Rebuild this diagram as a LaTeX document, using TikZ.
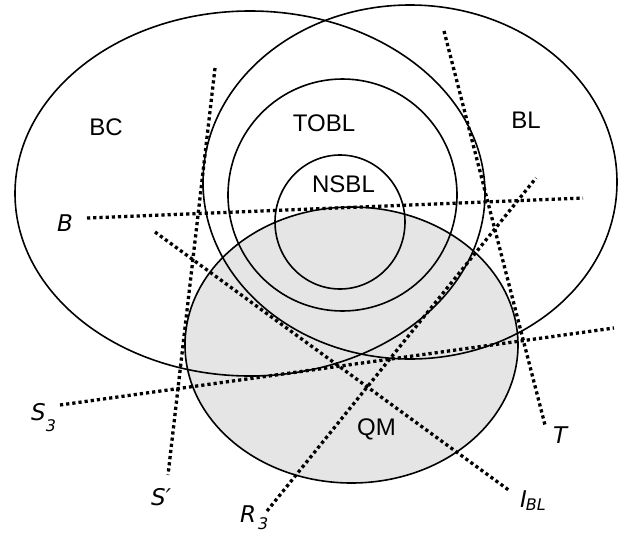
\documentclass[tikz,border=0pt]{standalone}
\usepackage{fontspec}
\setmainfont{Liberation Sans}
\newfontfamily\labfont{DejaVu Sans}
\definecolor{qmgray}{HTML}{E5E5E5}
\newcommand{\subsz}{\fontsize{16}{18}\selectfont}
\begin{document}
\begin{tikzpicture}[x=1pt,y=-1pt,
  outl/.style={line width=1.6pt},
  dotl/.style={line width=3.3pt, dash pattern=on 3.2pt off 3pt},
  reg/.style={font=\fontsize{24}{28}\selectfont, inner sep=0pt},
  ital/.style={font=\labfont\itshape\fontsize{23}{27}\selectfont, inner sep=0pt}]
\useasboundingbox (0,0) rectangle (637,533);
% QM fill
\fill[qmgray] (351.5,345) ellipse [x radius=166.5, y radius=138];
% outlines
\draw[outl] (250,193.5) ellipse [x radius=235, y radius=182.5];
\draw[outl] (410,182) ellipse [x radius=207, y radius=177];
\draw[outl] (342.5,195) ellipse [x radius=114.5, y radius=116];
\draw[outl] (340,222) ellipse [x radius=65, y radius=67];
\draw[outl] (351.5,345) ellipse [x radius=166.5, y radius=138];
% region labels
\node[reg] (bc) at (106,127) {BC};
\node[reg] (tobl) at (324,123.5) {TOBL};
\node[reg] (bl) at (526,120) {BL};
\node[reg] (nsbl) at (343.5,184) {NSBL};
\node[reg] (qm) at (376.5,429) {QM};
% line end points
\coordinate (b1) at (87,218);   \coordinate (b2) at (583,198);
\coordinate (s31) at (60,405);  \coordinate (s32) at (614,328);
\coordinate (sp1) at (215,68);  \coordinate (sp2) at (168,475);
\coordinate (r31) at (267,511); \coordinate (r32) at (536,178);
\coordinate (i1) at (155,232);  \coordinate (i2) at (510,491);
\coordinate (t1) at (444,31);   \coordinate (t2) at (545,425);
\draw[dotl] (b1) -- (b2);
\draw[dotl] (s31) -- (s32);
\draw[dotl] (sp1) -- (sp2);
\draw[dotl] (r31) -- (r32);
\draw[dotl] (i1) -- (i2);
\draw[dotl] (t1) -- (t2);
% line labels
\node[ital, anchor=base west] (lb) at (57,231) {B};
\node[ital, anchor=base west] (ls3) at (31,420) {S\raisebox{-11pt}{\subsz 3}};
\node[ital, anchor=base west] (lsp) at (151,505) {S′};
\node[ital, anchor=base west] (lr3) at (240,522) {R\raisebox{-7pt}{\subsz\hspace{2pt}3}};
\node[ital, anchor=base west] (lt) at (553,443) {T};
\node[ital, anchor=base west] (li) at (520,507) {I\hspace{-1pt}\raisebox{-3pt}{\subsz BL}};
\end{tikzpicture}
\end{document}
